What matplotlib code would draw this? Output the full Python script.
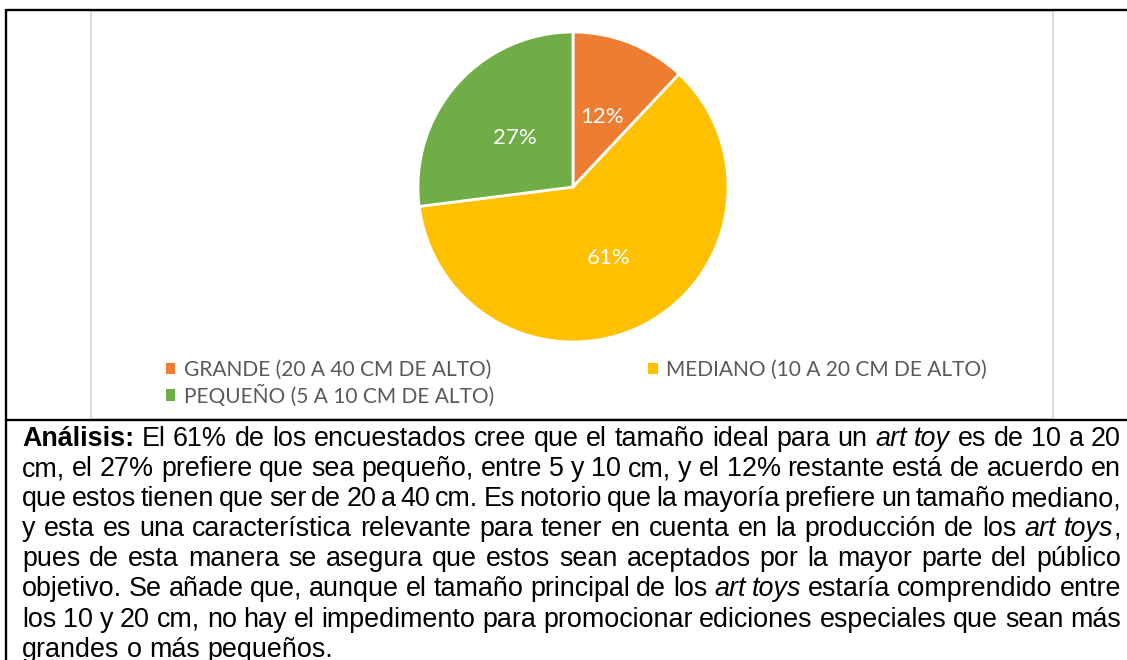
import matplotlib
matplotlib.use("Agg")
import matplotlib.pyplot as plt
from matplotlib.lines import Line2D
from matplotlib.patches import Rectangle

W, H = 1127, 660
DPI = 100

categories = ["GRANDE (20 A 40 CM DE ALTO)", "MEDIANO (10 A 20 CM DE ALTO)", "PEQUEÑO (5 A 10 CM DE ALTO)"]
values = [12, 61, 27]
colors = ["#ED7D31", "#FFC000", "#70AD47"]

paragraph_lines = [
    "**Análisis:** El 61% de los encuestados cree que el tamaño ideal para un _art toy_ es de 10 a 20",
    "cm, el 27% prefiere que sea pequeño, entre 5 y 10 cm, y el 12% restante está de acuerdo en",
    "que estos tienen que ser de 20 a 40 cm. Es notorio que la mayoría prefiere un tamaño mediano,",
    "y esta es una característica relevante para tener en cuenta en la producción de los _art toys_,",
    "pues de esta manera se asegura que estos sean aceptados por la mayor parte del público",
    "objetivo. Se añade que, aunque el tamaño principal de los _art toys_ estaría comprendido entre",
    "los 10 y 20 cm, no hay el impedimento para promocionar ediciones especiales que sean más",
    "grandes o más pequeños.",
]

fig = plt.figure(figsize=(W / DPI, H / DPI), dpi=DPI)
fig.patch.set_facecolor("white")


def fx(x):
    return x / W


def fy(y):
    return 1 - y / H


# frames
fig.add_artist(Rectangle((fx(91), fy(418.5)), (1052.5 - 91) / W, (418.5 - 10.5) / H,
                         transform=fig.transFigure, facecolor="none",
                         edgecolor="#D9D9D9", linewidth=1.3))
fig.add_artist(Line2D([fx(6), 1.0], [fy(9.5), fy(9.5)], color="black", lw=1.7,
                      transform=fig.transFigure, solid_capstyle="butt"))
fig.add_artist(Line2D([fx(6), fx(6)], [fy(9), 0], color="black", lw=1.7,
                      transform=fig.transFigure, solid_capstyle="butt"))
fig.add_artist(Line2D([fx(6), 1.0], [fy(420), fy(420)], color="black", lw=1.7,
                      transform=fig.transFigure, solid_capstyle="butt"))

# pie
cx, cy, r = 573, 187, 155
pad = 1.03
ax = fig.add_axes([fx(cx - r * pad), fy(cy + r * pad), 2 * r * pad / W, 2 * r * pad / H])
wedges, _, autotexts = ax.pie(
    values, colors=colors, startangle=90, counterclock=False,
    autopct=lambda p: f"{p:.0f}%", pctdistance=0.5, radius=1,
    wedgeprops=dict(edgecolor="white", linewidth=2.0),
    textprops=dict(color="white", fontsize=16, family="Lato"))
for t in autotexts:
    x, y = t.get_position()
    t.set_position((x, y - 0.015))
ax.set_xlim(-pad, pad)
ax.set_ylim(-pad, pad)
ax.set_aspect("equal")
ax.axis("off")

# legend
handles = [Rectangle((0, 0), 1, 1, facecolor=c, edgecolor="none") for c in colors]
order = [0, 2, 1]
fig.legend([handles[i] for i in order], [categories[i] for i in order], ncol=2,
           loc="upper left", bbox_to_anchor=(fx(166), fy(360)), frameon=False,
           borderpad=0, borderaxespad=0, handlelength=0.45, handleheight=0.45,
           handletextpad=0.4, columnspacing=7.4, labelspacing=0.2,
           prop=dict(family="Lato", size=15), labelcolor="#595959")

# paragraph (justified)
renderer = fig.canvas.get_renderer()
FS = 19.4
FONTS = {
    "n": dict(family="Liberation Sans"),
    "b": dict(family="Liberation Sans", weight="bold"),
    "i": dict(family="Liberation Sans", style="italic"),
}


def style_key(bold, italic):
    return "b" if bold else ("i" if italic else "n")


def parse(line):
    words, runs, cur = [], [], ""
    bold = italic = False
    i = 0

    def flush_run():
        nonlocal cur
        if cur:
            runs.append((cur, style_key(bold, italic)))
            cur = ""
    while i < len(line):
        if line.startswith("**", i):
            flush_run(); bold = not bold; i += 2; continue
        ch = line[i]
        if ch == "_":
            flush_run(); italic = not italic
        elif ch == " ":
            flush_run()
            if runs:
                words.append(runs)
            runs = []
        else:
            cur += ch
        i += 1
    flush_run()
    if runs:
        words.append(runs)
    return words


def width(s, st):
    t = fig.text(0, 0, s, fontsize=FS, **FONTS[st])
    w = t.get_window_extent(renderer).width
    t.remove()
    return w


space_w = width("x x", "n") - width("xx", "n")
L, R = 22, 1121
y0, dy = 446, 30.1
for li, line in enumerate(paragraph_lines):
    words = parse(line)
    wwidths = [[width(s, st) for s, st in w] for w in words]
    totals = [sum(ws) for ws in wwidths]
    last = li == len(paragraph_lines) - 1
    if last or len(words) < 2:
        gap = space_w
    else:
        gap = (R - L - sum(totals)) / (len(words) - 1)
    x = L
    y = y0 + li * dy
    for w, ws in zip(words, wwidths):
        xx = x
        for (s, st), rw in zip(w, ws):
            fig.text(fx(xx), fy(y), s, fontsize=FS, va="baseline", ha="left",
                     color="black", **FONTS[st])
            xx += rw
        x += sum(ws) + gap

fig.savefig("out.png", dpi=DPI)
